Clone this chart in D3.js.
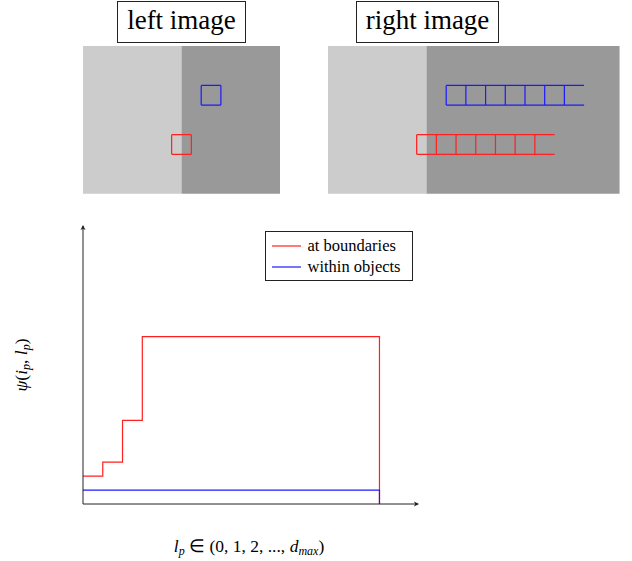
<!DOCTYPE html>
<html>
<head>
<meta charset="utf-8">
<script src="https://cdn.jsdelivr.net/npm/d3@7"></script>
</head>
<body style="margin:0;background:#fff">
<script>
// step curves: value holds from step x to the next x
const stepX = [0, 1, 2, 3, 15];
const boundaryValues = [2, 3, 6, 12, 12];
const withinValues = [1, 1, 1, 1, 1];
const xDomain = [0, 17];
const yDomain = [0, 20];

const legendLabels = ['at boundaries', 'within objects'];
const seriesColors = ['#ff2020', '#1a1aff'];

// illustration panels, in patch units (one patch = one square)
const panelTitles = ['left image', 'right image'];
const panelWidths = [10, 14.8];
const boundaryAt = [5, 5];
const leftPatches = [{ x: 6, y: 2, n: 1, c: 1 }, { x: 4.5, y: 4.5, n: 1, c: 0 }];
const rightPatches = [{ x: 6, y: 2, n: 7, c: 1 }, { x: 4.5, y: 4.5, n: 7, c: 0 }];

const W = 632, H = 561;
const serif = "'Liberation Serif', serif";
const svg = d3.select('body').append('svg').attr('width', W).attr('height', H)
  .style('display', 'block');

// ---------- top panels ----------
const unit = 19.7;
const panelH = 7.5;
const panels = [
  { left: 83, top: 46, boxX: 117, boxW: 128, patches: leftPatches },
  { left: 328, top: 46, boxX: 356, boxW: 142, patches: rightPatches }
];

panels.forEach((p, i) => {
  const px = d3.scaleLinear().domain([0, 1]).range([p.left, p.left + unit]);
  const py = d3.scaleLinear().domain([0, 1]).range([p.top, p.top + unit]);
  const g = svg.append('g');

  g.append('rect')
    .attr('x', px(0)).attr('y', py(0))
    .attr('width', px(boundaryAt[i]) - px(0)).attr('height', py(panelH) - py(0))
    .attr('fill', '#cccccc');
  g.append('rect')
    .attr('x', px(boundaryAt[i])).attr('y', py(0))
    .attr('width', px(panelWidths[i]) - px(boundaryAt[i])).attr('height', py(panelH) - py(0))
    .attr('fill', '#999999');

  p.patches.forEach(pt => {
    const x0 = px(pt.x), x1 = px(pt.x + pt.n), y0 = py(pt.y), y1 = py(pt.y + 1);
    let d = `M${x0},${y0}H${x1}M${x0},${y1}H${x1}`;
    d3.range(pt.n).forEach(k => { d += `M${px(pt.x + k)},${y0}V${y1}`; });
    if (pt.n === 1) d += `M${x1},${y0}V${y1}`;
    g.append('path').attr('d', d)
      .attr('fill', 'none')
      .attr('stroke', seriesColors[pt.c])
      .attr('stroke-width', 1.2);
  });

  // title box
  g.append('rect')
    .attr('x', p.boxX + 0.5).attr('y', 1.5)
    .attr('width', p.boxW).attr('height', 41)
    .attr('fill', '#fff').attr('stroke', '#222').attr('stroke-width', 1);
  g.append('text')
    .attr('x', p.boxX + p.boxW / 2 + 0.5).attr('y', 29)
    .attr('text-anchor', 'middle')
    .style('font-family', serif)
    .attr('font-size', 27)
    .attr('fill', '#000')
    .text(panelTitles[i]);
});

// ---------- chart ----------
const x = d3.scaleLinear().domain(xDomain).range([83, 419]);
const y = d3.scaleLinear().domain(yDomain).range([504, 225]);

const line = d3.line().x(d => x(d[0])).y(d => y(d[1])).curve(d3.curveStepAfter);

function stepPath(vals) {
  const pts = stepX.map((s, i) => [s, vals[i]]);
  pts.push([stepX[stepX.length - 1], 0]);
  return line(pts);
}

svg.append('path')
  .attr('d', stepPath(boundaryValues))
  .attr('fill', 'none').attr('stroke', seriesColors[0]).attr('stroke-width', 1.2);
svg.append('path')
  .attr('d', stepPath(withinValues))
  .attr('fill', 'none').attr('stroke', seriesColors[1]).attr('stroke-width', 1.2);

// axes with arrow tips
const axisColor = '#222';
svg.append('path')
  .attr('d', `M${x(0)},${y(0)}H${x(xDomain[1]) - 1}M${x(0)},${y(0)}V${y(yDomain[1]) + 1}`)
  .attr('fill', 'none').attr('stroke', axisColor).attr('stroke-width', 1);
svg.append('path')
  .attr('d', `M${x(xDomain[1])},${y(0)}l-5,-2.5l1.2,2.5l-1.2,2.5z`)
  .attr('fill', axisColor);
svg.append('path')
  .attr('d', `M${x(0)},${y(yDomain[1])}l-2.5,5l2.5,-1.2l2.5,1.2z`)
  .attr('fill', axisColor);

// legend
const lg = svg.append('g');
lg.append('rect')
  .attr('x', 265.5).attr('y', 231.5).attr('width', 147).attr('height', 49)
  .attr('fill', '#fff').attr('stroke', '#222').attr('stroke-width', 1);
legendLabels.forEach((lab, i) => {
  const ly = 246 + i * 21;
  lg.append('line')
    .attr('x1', 272).attr('x2', 301).attr('y1', ly).attr('y2', ly)
    .attr('stroke', seriesColors[i]).attr('stroke-width', 1.2);
  lg.append('text')
    .attr('x', 307.5).attr('y', ly + 5)
    .style('font-family', serif)
    .attr('font-size', 16.5).attr('fill', '#000')
    .text(lab);
});

// axis labels
const xl = svg.append('text')
  .attr('x', 249).attr('y', 552)
  .attr('text-anchor', 'middle')
  .style('font-family', serif)
  .attr('font-size', 17.5).attr('fill', '#000');
xl.append('tspan').attr('font-style', 'italic').text('l');
xl.append('tspan').attr('font-style', 'italic').attr('font-size', 12).attr('dy', 3).text('p');
xl.append('tspan').attr('dy', -3).text('\u00a0\u2208\u00a0(0,\u00a01,\u00a02,\u00a0...,\u00a0');
xl.append('tspan').attr('font-style', 'italic').text('d');
xl.append('tspan').attr('font-style', 'italic').attr('font-size', 12).attr('dy', 3).text('max');
xl.append('tspan').attr('dy', -3).text(')');

const yl = svg.append('text')
  .attr('transform', 'translate(27,365) rotate(-90)')
  .attr('text-anchor', 'middle')
  .style('font-family', serif)
  .attr('font-size', 17.5).attr('fill', '#000');
yl.append('tspan').attr('font-style', 'italic').text('\u03c8');
yl.append('tspan').text('(');
yl.append('tspan').attr('font-style', 'italic').text('i');
yl.append('tspan').attr('font-style', 'italic').attr('font-size', 12).attr('dy', 3).text('p');
yl.append('tspan').attr('dy', -3).text(',\u00a0');
yl.append('tspan').attr('font-style', 'italic').text('l');
yl.append('tspan').attr('font-style', 'italic').attr('font-size', 12).attr('dy', 3).text('p');
yl.append('tspan').attr('dy', -3).text(')');
</script>
</body>
</html>
